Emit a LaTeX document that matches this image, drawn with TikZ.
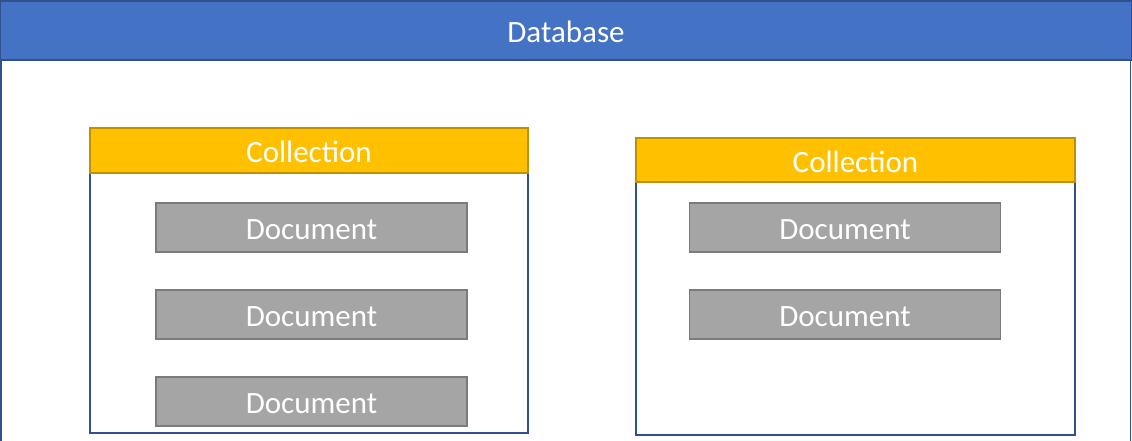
\documentclass[tikz,border=0pt]{standalone}
\usepackage{fontspec}
\setmainfont{Carlito}
\usetikzlibrary{positioning}
\definecolor{dbblue}{HTML}{4472C4}
\definecolor{dbedge}{HTML}{2F528F}
\definecolor{colfill}{HTML}{FFC000}
\definecolor{coledge}{HTML}{BF9000}
\definecolor{docfill}{HTML}{A5A5A5}
\definecolor{docedge}{HTML}{7B7B7B}

\begin{document}
\begin{tikzpicture}[x=1pt, y=-1pt,
        % Node styles
        box/.style={draw, inner sep=0pt, text height=24pt, text depth=0pt, font=\fontsize{31}{36}\selectfont, text=white},
        dbhead/.style={box, fill=dbblue, draw=dbedge, line width=1.5pt, minimum width=1131pt, minimum height=59pt},
        frame/.style={draw=dbedge, line width=1.5pt, fill=white, inner sep=0pt},
        colhead/.style={box, fill=colfill, draw=coledge, line width=1.5pt, minimum width=438pt, minimum height=45pt},
        doc/.style={box, fill=docfill, draw=docedge, line width=1.2pt, minimum width=311pt, minimum height=49pt},
    ]
    \useasboundingbox (0,0) rectangle (1132,440);
    \clip (0,0) rectangle (1132,440);

    % Database frame and header
    \draw[frame] (0.75,1) rectangle (1130.25,470);
    \node[dbhead] (db) at (566,30.5) {Database};

    % Collection frames
    \node[frame, minimum width=438pt, minimum height=305pt] (colA) at (309,280.5) {};
    \node[frame, minimum width=439pt, minimum height=297pt] (colB) at (855.5,286.5) {};

    % Collection headers
    \node[colhead, anchor=north] (headA) at (colA.north) {Collection};
    \node[colhead, minimum width=439pt, minimum height=44pt, anchor=north] (headB) at (colB.north) {Collection};

    % Documents
    \foreach \y [count=\i] in {227.5, 314.5, 401.5} {
        \node[doc] (docA\i) at (311.5,\y) {Document};
    }
    \foreach \y [count=\i] in {227.5, 314.5} {
        \node[doc] (docB\i) at (845,\y) {Document};
    }
\end{tikzpicture}
\end{document}
